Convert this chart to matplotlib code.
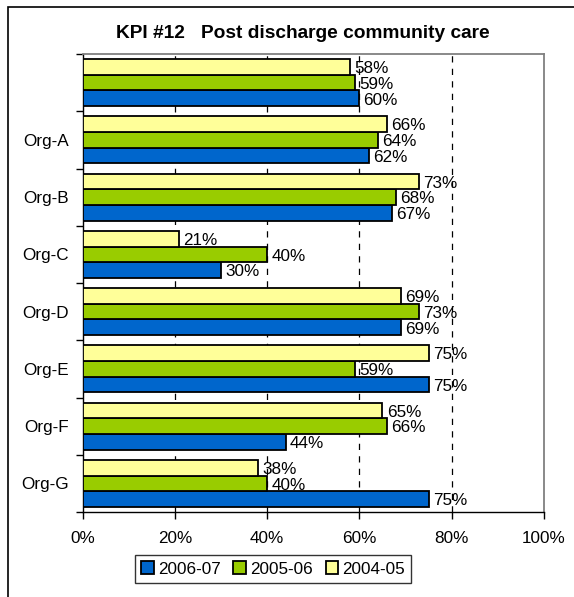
import matplotlib
matplotlib.use("Agg")
import matplotlib.pyplot as plt
import numpy as np
from matplotlib.patches import Rectangle

plt.rcParams['font.family'] = ['Liberation Sans', 'DejaVu Sans']

categories = ["", "Org-A", "Org-B", "Org-C", "Org-D", "Org-E", "Org-F", "Org-G"]
series_names = ["2006-07", "2005-06", "2004-05"]
v_2006_07 = [60, 62, 67, 30, 69, 75, 44, 75]
v_2005_06 = [59, 64, 68, 40, 73, 59, 66, 40]
v_2004_05 = [58, 66, 73, 21, 69, 75, 65, 38]
colors = ["#0066CC", "#99CC00", "#FFFF99"]
x_ticks = [0, 20, 40, 60, 80, 100]
x_ticklabels = ["0%", "20%", "40%", "60%", "80%", "100%"]

fig = plt.figure(figsize=(5.74, 5.97), dpi=100)
ax = fig.add_axes([82.5/574, 1-512/597, (544-82.5)/574, (512-54)/597])

n = len(categories)
ypos = np.arange(n)[::-1].astype(float)  # top category first
bh = 0.275
offsets = [-bh, 0.0, bh]  # 2006-07 bottom, 2005-06 middle, 2004-05 top
all_vals = [v_2006_07, v_2005_06, v_2004_05]

for vals, off, col, name in zip(all_vals, offsets, colors, series_names):
    ax.barh(ypos + off, vals, height=bh, color=col, edgecolor="black",
            linewidth=1.3, label=name, zorder=3)
    for y, v in zip(ypos + off, vals):
        ax.text(v + 0.9, y - 0.03, f"{v}%", va="center", ha="left",
                fontsize=12.3, zorder=4)

ax.set_xlim(0, 100)
ax.set_ylim(-0.5, n - 0.5)
ax.set_xticks(x_ticks)
ax.set_xticklabels(x_ticklabels, fontsize=12.3)
ax.tick_params(axis="x", direction="out", length=5, width=1, pad=9)

ax.set_yticks(ypos)
ax.set_yticklabels(categories, fontsize=12.3)
ax.set_yticks(np.arange(-0.5, n, 1.0), minor=True)
ax.tick_params(axis="y", which="major", length=0, pad=9.5)
ax.tick_params(axis="y", which="minor", length=5, width=1, direction="out")

for gx in [20, 40, 60, 80]:
    ax.axvline(gx, color="black", linestyle=(0, (5, 5)), linewidth=0.9, zorder=1)

ax.spines["top"].set_color("#808080")
ax.spines["right"].set_color("#808080")
ax.spines["top"].set_linewidth(1.3)
ax.spines["right"].set_linewidth(1.3)
ax.spines["left"].set_linewidth(1.0)
ax.spines["bottom"].set_linewidth(1.0)

fig.text(303/574, 1-34/597, "KPI #12   Post discharge community care",
         ha="center", va="center", fontsize=13.8, fontweight="bold")

leg = fig.legend(loc="center", bbox_to_anchor=(273/574, 1-569/597), ncol=3,
                 fontsize=12.3, frameon=True, fancybox=False, edgecolor="black",
                 handlelength=0.72, handleheight=0.72, handletextpad=0.25,
                 columnspacing=0.75, borderpad=0.35)
leg.get_frame().set_linewidth(1.0)

fig.patches.append(Rectangle((8/574, -0.1), 1.2, 1 - 6.5/597 + 0.1,
                             transform=fig.transFigure, fill=False,
                             edgecolor="black", linewidth=1.2))

fig.savefig("out.png", dpi=100)
